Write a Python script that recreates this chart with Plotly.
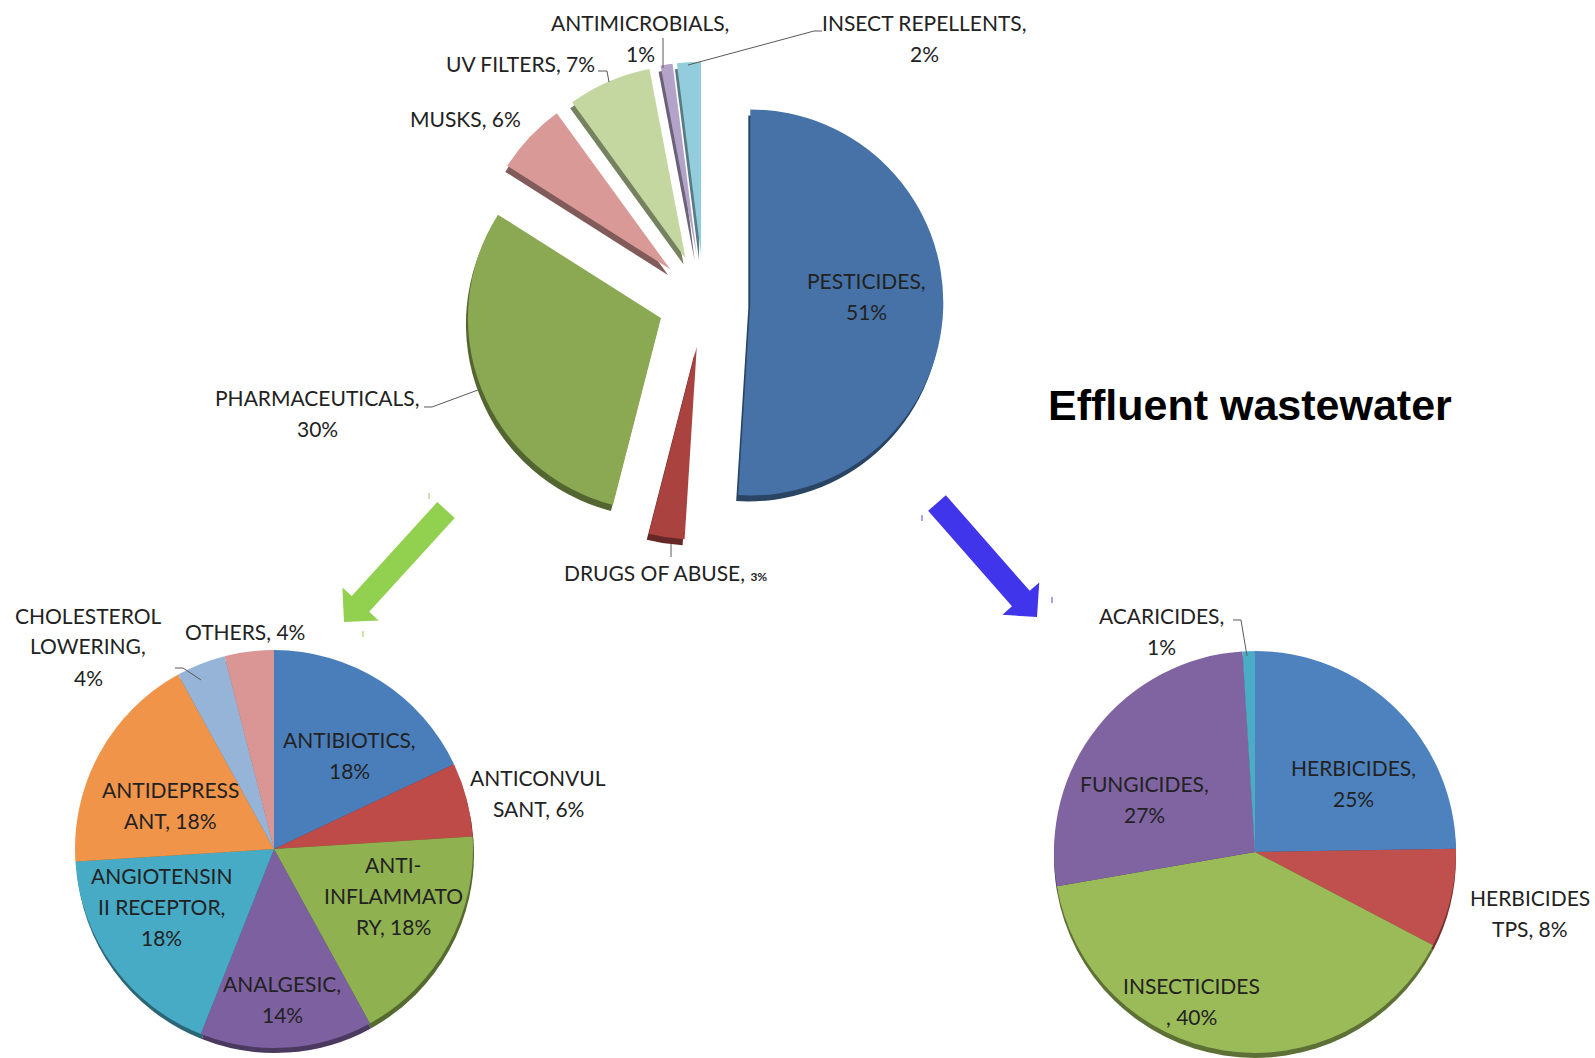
import math
import plotly.graph_objects as go

W, H = 1595, 1058

# ---------------------------------------------------------------- data
effluent_groups = ["PESTICIDES", "DRUGS OF ABUSE", "PHARMACEUTICALS", "MUSKS",
                   "UV FILTERS", "ANTIMICROBIALS", "INSECT REPELLENTS"]
effluent_share = [51, 3, 30, 6, 7, 1, 2]

pharma_classes = ["ANTIBIOTICS", "ANTICONVUL\nSANT", "ANTI-\nINFLAMMATO\nRY", "ANALGESIC",
                  "ANGIOTENSIN\nII RECEPTOR", "ANTIDEPRESS\nANT", "CHOLESTEROL\nLOWERING", "OTHERS"]
pharma_share = [18, 6, 18, 14, 18, 18, 4, 4]

pesticide_classes = ["HERBICIDES", "HERBICIDES\nTPS", "INSECTICIDES", "FUNGICIDES", "ACARICIDES"]
pesticide_share = [25, 8, 40, 27, 1]

title_text = "Effluent wastewater"

# ---------------------------------------------------------------- styling
effluent_colors = ["#4672A8", "#AA4340", "#8BA953", "#D89997", "#C5D7A1", "#B3A3C8", "#93CDDD"]
pharma_colors = ["#4A7EBB", "#BE4B48", "#8FB150", "#7D60A0", "#47ABC6", "#F0944A", "#96B4D7", "#DA9694"]
pesticide_colors = ["#4D82BE", "#C0504D", "#9BBB59", "#8064A2", "#4BACC6"]

# how the value is joined to the name in each slice label
effluent_sep = [",\n", ", ", ",\n", ", ", ", ", ",\n", ",\n"]
pharma_sep = [",\n", ", ", ", ", ",\n", ",\n", ", ", ",\n", ", "]
pesticide_sep = [",\n", ", ", "\n, ", ",\n", ",\n"]

# label block centres (pixels)
effluent_label_xy = [(866, 296), (665, 572), (317, 413), (465, 119),
                     (520, 63), (640, 38), (924, 38)]
pharma_label_xy = [(349, 755), (538, 793), (393, 895), (282, 999),
                   (161, 906), (170, 805), (88, 646), (245, 631)]
pesticide_label_xy = [(1353, 783), (1530, 913), (1191, 1001), (1144, 799), (1161, 631)]

# leader lines (pixel polylines)
leaders = [
    [(598, 71), (607, 71), (609, 82)],            # UV filters
    [(663, 38), (663, 68)],                        # antimicrobials
    [(822, 31), (814, 31), (688, 65)],             # insect repellents
    [(424, 407), (432, 407), (478, 390)],          # pharmaceuticals
    [(671, 544), (671, 557)],                      # drugs of abuse
    [(175, 668), (183, 668), (201, 680)],          # cholesterol lowering
    [(1233, 620), (1241, 620), (1247, 656)],       # acaricides
]

FONT = "Lato"
FSIZE = 21
LINE_GAP = 31
TEXT_COLOR = "#222222"


def fx(x):
    return x / W


def fy(y):
    return 1 - y / H


def domain_for(cx, cy, r, pull=0.0):
    half = r * (1 + pull)
    return dict(x=[(cx - half) / W, (cx + half) / W],
                y=[1 - (cy + half) / H, 1 - (cy - half) / H])


def darker(hexcol, k=0.6):
    h = hexcol.lstrip("#")
    r, g, b = (int(h[i:i + 2], 16) for i in (0, 2, 4))
    return "#%02X%02X%02X" % (int(r * k), int(g * k), int(b * k))


fig = go.Figure()


def add_pie(names, values, colors, cx, cy, r, pull, shadow_dx, shadow_dy):
    flat = [n.replace("\n", "") for n in names]
    pulls = [pull] * len(values)
    # darker copy underneath gives the slices a thin raised rim
    fig.add_trace(go.Pie(
        labels=flat, values=values, sort=False, direction="clockwise", rotation=0,
        pull=pulls, textinfo="none", hoverinfo="skip",
        marker=dict(colors=[darker(c) for c in colors], line=dict(width=0)),
        domain=domain_for(cx + shadow_dx, cy + shadow_dy, r, pull), showlegend=False,
    ))
    fig.add_trace(go.Pie(
        labels=flat, values=values, sort=False, direction="clockwise", rotation=0,
        pull=pulls, textinfo="none", hoverinfo="label+percent",
        marker=dict(colors=colors, line=dict(width=0)),
        domain=domain_for(cx, cy, r, pull), showlegend=False,
    ))


add_pie(effluent_groups, effluent_share, effluent_colors, 704, 301, 193, 0.24, -2, 6)
add_pie(pharma_classes, pharma_share, pharma_colors, 274, 849, 199, 0.0, 1, 5)
add_pie(pesticide_classes, pesticide_share, pesticide_colors, 1255, 852, 201, 0.0, 0, 5)

annotations = []


def add_labels(names, values, seps, centres, small_value=()):
    for name, v, sep, (cx, cy) in zip(names, values, seps, centres):
        if name in small_value:
            val = "<span style='font-size:12px'><b>%d%%</b></span>" % v
        else:
            val = "%d%%" % v
        lines = (name + sep + val).split("\n")
        n = len(lines)
        for i, line in enumerate(lines):
            y = cy + (i - (n - 1) / 2) * LINE_GAP
            annotations.append(dict(
                x=fx(cx), y=fy(y), xref="paper", yref="paper", text=line,
                showarrow=False, xanchor="center", yanchor="middle",
                font=dict(family=FONT, size=FSIZE, color=TEXT_COLOR),
            ))


add_labels(effluent_groups, effluent_share, effluent_sep, effluent_label_xy,
           small_value=("DRUGS OF ABUSE",))
add_labels(pharma_classes, pharma_share, pharma_sep, pharma_label_xy)
add_labels(pesticide_classes, pesticide_share, pesticide_sep, pesticide_label_xy)

# title
annotations.append(dict(
    x=fx(1250), y=fy(405), xref="paper", yref="paper", text="<b>%s</b>" % title_text,
    showarrow=False, xanchor="center", yanchor="middle",
    font=dict(family="Liberation Sans, Arial", size=43, color="#000000"),
))

shapes = []
for pts in leaders:
    path = "M " + " L ".join("%f,%f" % (fx(x), fy(y)) for x, y in pts)
    shapes.append(dict(type="path", path=path, xref="paper", yref="paper",
                       line=dict(color="#595959", width=1)))


def block_arrow(tail, tip, body_half, head_half, head_len):
    """Filled block-arrow outline from tail to tip, in paper coordinates."""
    dx, dy = tip[0] - tail[0], tip[1] - tail[1]
    d = math.hypot(dx, dy)
    ux, uy = dx / d, dy / d
    nx, ny = -uy, ux
    bx, by = tip[0] - head_len * ux, tip[1] - head_len * uy
    pts = [
        (tail[0] + body_half * nx, tail[1] + body_half * ny),
        (bx + body_half * nx, by + body_half * ny),
        (bx + head_half * nx, by + head_half * ny),
        tip,
        (bx - head_half * nx, by - head_half * ny),
        (bx - body_half * nx, by - body_half * ny),
        (tail[0] - body_half * nx, tail[1] - body_half * ny),
    ]
    return "M " + " L ".join("%f,%f" % (fx(x), fy(y)) for x, y in pts) + " Z"


# block arrows pointing to the breakdown pies
for (tail, tip, col) in [((446, 510), (344, 622), "#92D050"),
                         ((937, 503), (1037, 617), "#4035EB")]:
    shapes.append(dict(type="path", xref="paper", yref="paper",
                       path=block_arrow(tail, tip, 11.8, 24.5, 24.5),
                       fillcolor=col, line=dict(width=0)))

# small handle ticks beside the arrows
for (x, y, col) in [(429, 496, "#B5E08A"), (363, 634, "#B5E08A"),
                    (922, 518, "#8C86F0"), (1052, 600, "#8C86F0")]:
    shapes.append(dict(type="line", xref="paper", yref="paper",
                       x0=fx(x), x1=fx(x), y0=fy(y - 3), y1=fy(y + 3),
                       line=dict(color=col, width=1.5)))

fig.update_layout(
    width=W, height=H, autosize=False,
    margin=dict(l=0, r=0, t=0, b=0),
    paper_bgcolor="white", plot_bgcolor="white",
    annotations=annotations, shapes=shapes, showlegend=False,
)

fig.write_html("out.html")
